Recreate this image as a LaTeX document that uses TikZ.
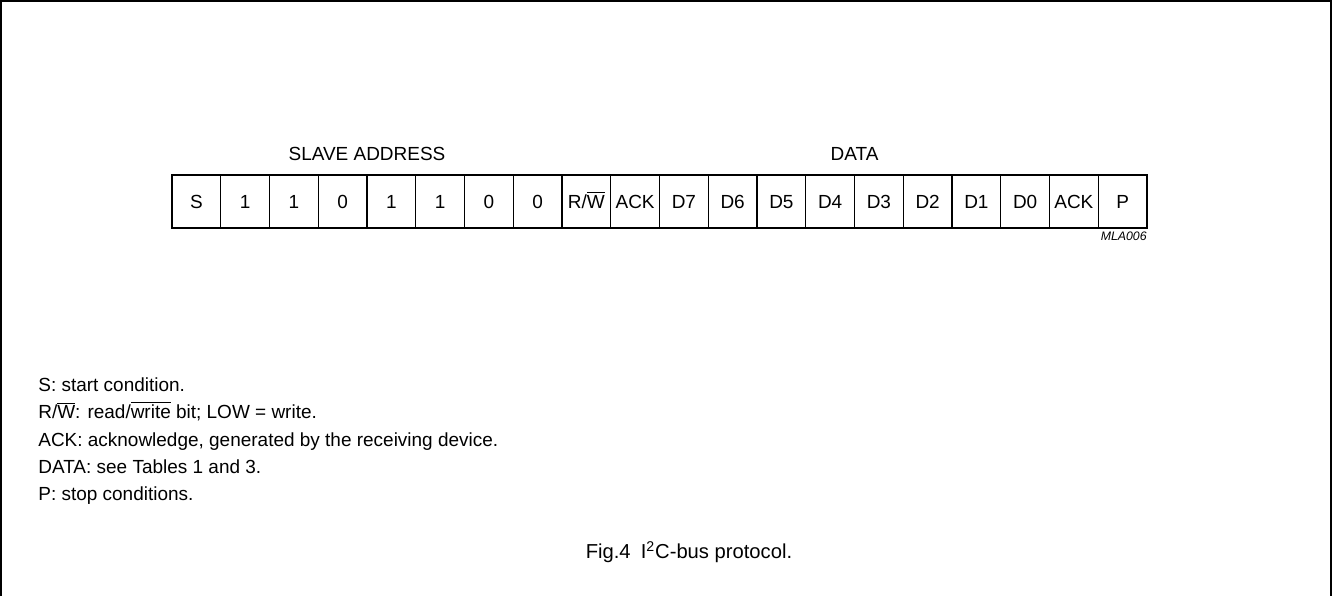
\documentclass[tikz,border=0pt]{standalone}
\usepackage{fontspec}
\setmainfont{Liberation Sans}
\usepackage{tikz}
\usetikzlibrary{calc}
\tikzset{bitcell/.style={draw=black, line width=.6pt, minimum width=.975cm, minimum height=1.06cm, inner sep=0pt, outer sep=0pt, text height=7.7pt, text depth=0pt, font=\fontsize{10.8}{12}\selectfont},
  fieldname/.style={inner sep=0pt, font=\fontsize{10.8}{12}\selectfont},
  noteline/.style={anchor=base west, inner sep=0pt, font=\fontsize{10.8}{12}\selectfont}}
\newcommand{\rwbar}{R/$\overline{\hbox{W}}$}

\begin{document}
\begin{tikzpicture}[x=.02cm,y=.02cm]
\useasboundingbox (0,0) rectangle (1332,596);
\draw[black, line width=1.2pt] (1,0)--(1,595)--(1331,595)--(1331,0);
\foreach \lbl [count=\i from 0] in {S,1,1,0,1,1,0,0,\rwbar,ACK,D7,D6,D5,D4,D3,D2,D1,D0,ACK,P}
  \node[bitcell] (c\i) at (196.375+48.75*\i,394.5) {\lbl};
\node[fieldname] (slave) at ($(c0.north west)!.5!(c7.north east)+(0,21)$) {SLAVE ADDRESS};
\node[fieldname] (data) at ($(c10.north west)!.5!(c17.north east)+(0,21)$) {DATA};
\node[anchor=north east, inner sep=0pt, font=\fontsize{7}{8}\selectfont\itshape] (code) at ($(c19.south east)+(0,-4)$) {MLA006};
\node[noteline] (n1) at (38,204.5) {S: start condition.};
\node[noteline] (n2) at (38,177.25) {\rwbar: read/$\overline{\hbox{write}}$ bit; LOW = write.};
\node[noteline] (n3) at (38,150) {ACK: acknowledge, generated by the receiving device.};
\node[noteline] (n4) at (38,122.75) {DATA: see Tables 1 and 3.};
\node[noteline] (n5) at (38,95.5) {P: stop conditions.};
\node[inner sep=0pt, font=\fontsize{11.5}{13}\selectfont] (cap) at (689,44) {Fig.4\enspace I\textsuperscript{2}C-bus protocol.};
\end{tikzpicture}
\end{document}
